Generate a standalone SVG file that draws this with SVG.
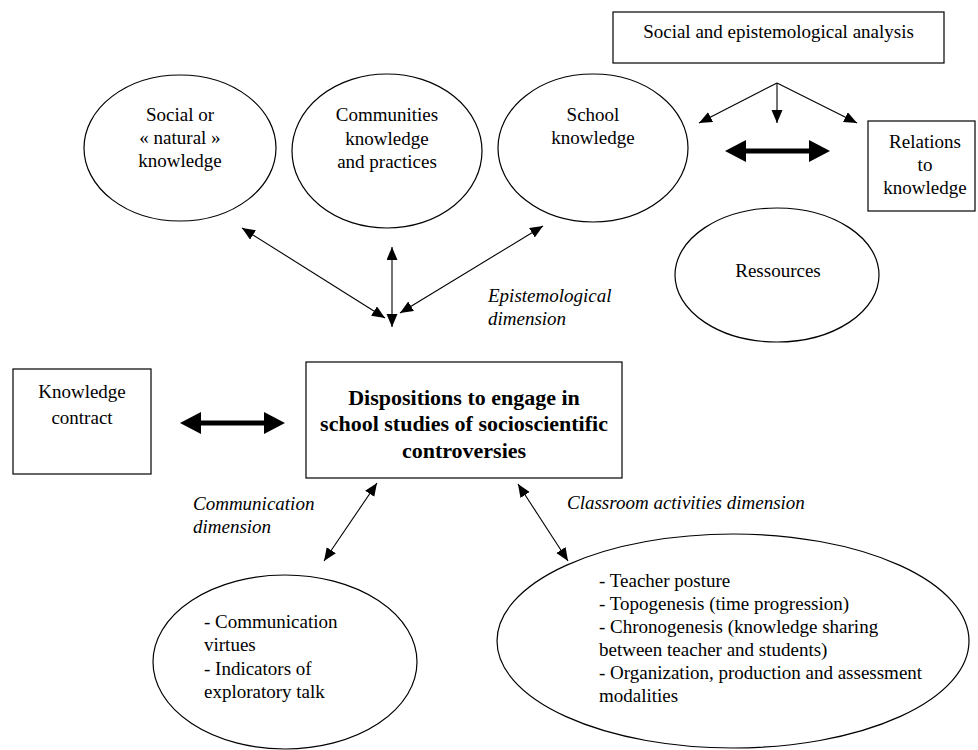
<svg xmlns="http://www.w3.org/2000/svg" width="978" height="750" viewBox="0 0 978 750">
<defs>
<marker id="ah" markerUnits="userSpaceOnUse" markerWidth="14" markerHeight="12" refX="13" refY="5.5" orient="auto-start-reverse" viewBox="0 0 14 12"><path d="M0,0 L13,5.5 L0,11 z" fill="#000"/></marker>
</defs>
<style>
.t{font-family:"Liberation Serif","Times New Roman",serif;font-size:19px;fill:#000}
.c{text-anchor:middle}
.i{font-style:italic}
.b{font-weight:bold;font-size:22px}
.s{fill:#fff;stroke:#000;stroke-width:1.2}
.ln{stroke:#000;stroke-width:1.1;fill:none}
.th{fill:#000;stroke:none}
</style>
<rect width="978" height="750" fill="#fff"/>

<g id="analysis">
<rect class="s" x="613" y="12" width="331" height="51"/>
<text class="t c" x="778.5" y="38">Social and epistemological analysis</text>
</g>
<g id="relations">
<rect class="s" x="868" y="121" width="107" height="90"/>
<text class="t c" x="925" y="148">Relations</text>
<text class="t c" x="925" y="171">to</text>
<text class="t c" x="925" y="194">knowledge</text>
</g>
<g id="social">
<ellipse class="s" cx="180" cy="148" rx="96" ry="73"/>
<text class="t c" x="180" y="121">Social or</text>
<text class="t c" x="180" y="144">« natural »</text>
<text class="t c" x="180" y="167">knowledge</text>
</g>
<g id="communities">
<ellipse class="s" cx="387" cy="151" rx="95" ry="77"/>
<text class="t c" x="387" y="121">Communities</text>
<text class="t c" x="387" y="145">knowledge</text>
<text class="t c" x="387" y="168">and practices</text>
</g>
<g id="school">
<ellipse class="s" cx="593" cy="148" rx="95" ry="74"/>
<text class="t c" x="593" y="121">School</text>
<text class="t c" x="593" y="144">knowledge</text>
</g>
<g id="ressources">
<ellipse class="s" cx="777" cy="275" rx="102" ry="67"/>
<text class="t c" x="778" y="277">Ressources</text>
</g>
<g id="contract">
<rect class="s" x="13" y="369" width="138" height="105"/>
<text class="t c" x="82" y="398">Knowledge</text>
<text class="t c" x="82" y="424">contract</text>
</g>
<g id="dispositions">
<rect class="s" x="306" y="362" width="316" height="116"/>
<text class="t c b" x="464" y="405">Dispositions to engage in</text>
<text class="t c b" x="464" y="431">school studies of socioscientific</text>
<text class="t c b" x="464" y="458">controversies</text>
</g>
<g id="communication">
<ellipse class="s" cx="285" cy="662" rx="132" ry="87"/>
<text class="t" x="204" y="628">- Communication</text>
<text class="t" x="204" y="651">virtues</text>
<text class="t" x="204" y="675">- Indicators of</text>
<text class="t" x="204" y="698">exploratory talk</text>
</g>
<g id="classroom">
<ellipse class="s" cx="733" cy="641" rx="236" ry="107"/>
<text class="t" x="599" y="587">- Teacher posture</text>
<text class="t" x="599" y="610">- Topogenesis (time progression)</text>
<text class="t" x="599" y="633">- Chronogenesis (knowledge sharing</text>
<text class="t" x="599" y="656">between teacher and students)</text>
<text class="t" x="599" y="679">- Organization, production and assessment</text>
<text class="t" x="599" y="702">modalities</text>
</g>

<g id="labels">
<text class="t i" x="488" y="302">Epistemological</text>
<text class="t i" x="488" y="325">dimension</text>
<text class="t i" x="193" y="510">Communication</text>
<text class="t i" x="193" y="533">dimension</text>
<text class="t i" x="567" y="509">Classroom activities dimension</text>
</g>

<g id="connectors">
<line class="ln" x1="777" y1="83" x2="699" y2="123" marker-end="url(#ah)"/>
<line class="ln" x1="777" y1="83" x2="777" y2="123" marker-end="url(#ah)"/>
<line class="ln" x1="777" y1="83" x2="857" y2="123" marker-end="url(#ah)"/>
<line class="ln" x1="242" y1="228" x2="385" y2="318" marker-start="url(#ah)" marker-end="url(#ah)"/>
<line class="ln" x1="392" y1="247" x2="392" y2="327" marker-start="url(#ah)" marker-end="url(#ah)"/>
<line class="ln" x1="543" y1="226" x2="400" y2="313" marker-start="url(#ah)" marker-end="url(#ah)"/>
<line class="ln" x1="377" y1="483" x2="324" y2="561" marker-start="url(#ah)" marker-end="url(#ah)"/>
<line class="ln" x1="518" y1="484" x2="568" y2="561" marker-start="url(#ah)" marker-end="url(#ah)"/>
<polygon class="th" points="725,151 746,140 746,148.5 809,148.5 809,140 830,151 809,162 809,153.5 746,153.5 746,162"/>
<polygon class="th" points="180,423 201,412 201,420.5 264,420.5 264,412 285,423 264,434 264,425.5 201,425.5 201,434"/>
</g>
</svg>
